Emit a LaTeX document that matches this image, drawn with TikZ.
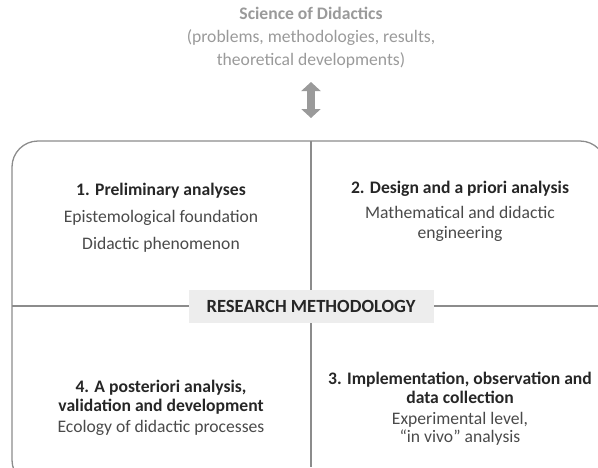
\documentclass[tikz,border=0pt]{standalone}
\usepackage{fontspec}
\setmainfont{Carlito}
\usepackage{xcolor}
\usetikzlibrary{arrows.meta,positioning}
\definecolor{lightgrey}{HTML}{9A9A9A}
\definecolor{framegrey}{HTML}{8C8C8C}
\definecolor{textgrey}{HTML}{4A4A4A}
\tikzset{
  head/.style={font=\fontsize{17.6}{19}\selectfont\bfseries, text=black!85, align=center},
  body/.style={font=\fontsize{17.6}{20}\selectfont, text=textgrey, align=center},
  top/.style={font=\fontsize{17.6}{23}\selectfont, text=lightgrey, align=center}
}

\begin{document}
\begin{tikzpicture}[x=1pt,y=-1pt]
\useasboundingbox (0,0) rectangle (598,467);
\begin{scope}
\clip (0,0) rectangle (598,467);
\draw[framegrey, line width=1.3pt, rounded corners=26pt] (12,141) rectangle (606,486);
\end{scope}
\coordinate (topmid) at (311,141);
\coordinate (botmid) at (311,467);
\coordinate (leftmid) at (12,306);
\coordinate (rightmid) at (598,306);
\draw[framegrey, line width=1.3pt] (topmid) -- (botmid);
\draw[framegrey, line width=1.3pt] (leftmid) -- (rightmid);
\node[fill=black!7, minimum width=245pt, minimum height=33pt, font=\fontsize{18.6}{20}\selectfont\bfseries, text=black!85] (method) at (311,306) {RESEARCH METHODOLOGY};

\node[top] (science) at (311,38) {\textbf{Science of Didactics}\\(problems, methodologies, results,\\theoretical developments)};
\coordinate (arrtop) at (311,82);
\coordinate (arrbot) at (311,118);
\draw[lightgrey, line width=8pt, {Triangle[width=19pt,length=9pt]}-{Triangle[width=19pt,length=9pt]}] (arrtop) -- (arrbot);

\node[head] (pre) at (161,191) {1. Preliminary analyses};
\node[body] (pretxt) at (161,231) {Epistemological foundation\\[7pt]Didactic phenomenon};
\node[head] (design) at (460,189) {2. Design and a priori analysis};
\node[body] (designtxt) at (460,224) {Mathematical and didactic\\engineering};
\node[head] (impl) at (460,388) {3. Implementation, observation and\\data collection};
\node[body, font=\fontsize{17.6}{17.5}\selectfont] (impltxt) at (460,429) {Experimental level,\\``in vivo'' analysis};
\node[head] (post) at (161,397) {4. A posteriori analysis,\\validation and development};
\node[body] (posttxt) at (161,428) {Ecology of didactic processes};
\end{tikzpicture}
\end{document}
